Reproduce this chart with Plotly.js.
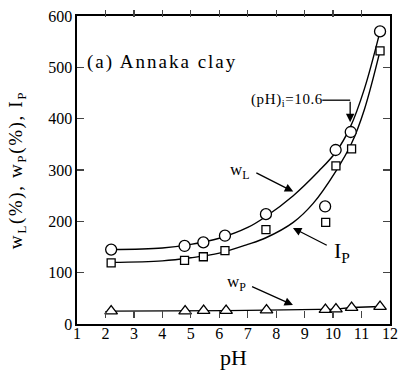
<!DOCTYPE html>
<html>
<head>
<meta charset="utf-8">
<script src="https://cdn.plot.ly/plotly-3.0.1.min.js"></script>
<style>
body{margin:0;padding:0;background:#fff;}
#chart{width:399px;height:370px;}
g.annotation[data-index="0"] text{letter-spacing:2px;}
g.annotation[data-index="1"] text{letter-spacing:0.6px;}
text.ytitle{letter-spacing:1.6px;}
g.xaxislayer-above{transform:translateY(-6px);}
</style>
</head>
<body>
<div id="chart"></div>
<script>
// measured points
const wlX = [2.2, 4.78, 5.44, 6.2, 7.64, 9.72, 10.09, 10.62, 11.65];
const wlY = [145, 152, 159, 172, 214, 229, 339, 374, 570];
const ipX = [2.2, 4.78, 5.44, 6.2, 7.64, 9.74, 10.1, 10.65, 11.65];
const ipY = [119, 124, 131, 143, 184, 198, 308, 341, 532];
const wpX = [2.2, 4.8, 5.45, 6.24, 7.66, 9.73, 10.1, 10.65, 11.65];
const wpY = [25, 25, 26, 26, 27, 28, 29, 32, 34];
// fitted curves
const wlFitX = [2.2, 4, 5, 6, 7, 7.6, 8.6, 9.5, 10.1, 10.6, 11.1, 11.65];
const wlFitY = [145, 148, 155, 167, 188, 208, 250, 298, 335, 383, 458, 570];
const ipFitX = [2.2, 4, 5, 6, 7, 7.64, 8.6, 9.3, 10.1, 10.65, 11.1, 11.65];
const ipFitY = [120, 123, 129, 138, 155, 168, 198, 235, 298, 352, 418, 532];
const xTicks = [1,2,3,4,5,6,7,8,9,10,11,12];
const yTicks = [0,100,200,300,400,500,600];

const serif = 'Liberation Serif, Times New Roman, serif';
const lineStyle = {color:'#000', width:1.4};
const mk = (sym, size) => ({symbol:sym, size:size, color:'#fff', line:{color:'#000', width:1.3}});

const traces = [
  {x: wlFitX, y: wlFitY, mode:'lines', line:{color:'#000', width:1.4, shape:'spline', smoothing:1}, hoverinfo:'skip'},
  {x: ipFitX, y: ipFitY, mode:'lines', line:{color:'#000', width:1.4, shape:'spline', smoothing:1}, hoverinfo:'skip'},
  {x: wpX, y: wpY, mode:'lines+markers', line:lineStyle, marker: mk('triangle-up', 11)},
  {x: wlX, y: wlY, mode:'markers', marker: mk('circle', 11)},
  {x: ipX, y: ipY, mode:'markers', marker: mk('square', 8)}
];

const arrow = (x, y, ax, ay) => ({x:x, y:y, ax:ax, ay:ay, xref:'x', yref:'y', axref:'x', ayref:'y',
  text:'', showarrow:true, arrowhead:2, arrowsize:1.3, arrowwidth:1.3, arrowcolor:'#000', standoff:0, startstandoff:0});

const layout = {
  width:399, height:370,
  margin:{l:77, r:9, t:16, b:46},
  paper_bgcolor:'#fff', plot_bgcolor:'#fff',
  showlegend:false,
  font:{family:serif, color:'#000', size:15},
  xaxis:{range:[1,12], tickvals:xTicks, ticktext:xTicks.map(String), ticks:'inside', ticklen:7, tickwidth:1.3,
    showline:true, linewidth:1.6, linecolor:'#000', mirror:'ticks', showgrid:false, zeroline:false,
    tickfont:{family:serif, size:16},
    title:{text:'pH', font:{family:serif, size:22}, standoff:4}},
  yaxis:{range:[0,600], tickvals:yTicks, ticktext:yTicks.map(String), ticks:'inside', ticklen:7, tickwidth:1.3,
    showline:true, linewidth:1.6, linecolor:'#000', mirror:'ticks', showgrid:false, zeroline:false,
    tickfont:{family:serif, size:16},
    title:{text:'w<sub>L</sub>(%), w<sub>P</sub>(%), I<sub>P</sub>', font:{family:serif, size:19}, standoff:20}},
  annotations:[
    {x:1.82, y:511, xref:'x', yref:'y', xanchor:'left', yanchor:'middle', showarrow:false,
      text:'(a) Annaka clay', font:{family:serif, size:19}},
    {x:9.6, y:436, xref:'x', yref:'y', xanchor:'right', yanchor:'middle', showarrow:false,
      text:'(pH)<sub>i</sub>=10.6', font:{family:serif, size:15}},
    {x:6.74, y:298, xref:'x', yref:'y', xanchor:'center', yanchor:'middle', showarrow:false,
      text:'w<sub>L</sub>', font:{family:serif, size:17}},
    {x:10.3, y:140, xref:'x', yref:'y', xanchor:'center', yanchor:'middle', showarrow:false,
      text:'I<sub>P</sub>', font:{family:serif, size:22}},
    {x:6.62, y:79, xref:'x', yref:'y', xanchor:'center', yanchor:'middle', showarrow:false,
      text:'w<sub>P</sub>', font:{family:serif, size:17}},
    arrow(10.6, 393, 10.6, 436),
    arrow(8.6, 258, 7.25, 296),
    arrow(8.59, 187, 9.83, 152),
    arrow(8.59, 37, 7.1, 74)
  ],
  shapes:[
    {type:'line', xref:'x', yref:'y', x0:9.62, y0:436, x1:10.6, y1:436, line:{color:'#000', width:1.3}}
  ]
};

Plotly.newPlot('chart', traces, layout, {staticPlot:true, displayModeBar:false});
</script>
</body>
</html>
